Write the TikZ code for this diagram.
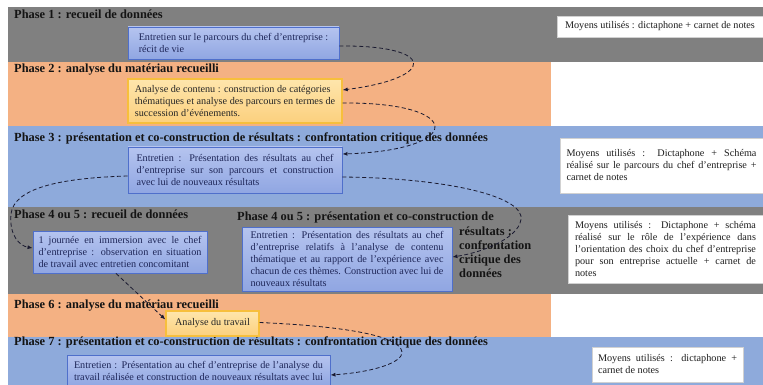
\documentclass[tikz,border=0pt]{standalone}
\usepackage{fontspec}
\setmainfont{Liberation Serif}
\usetikzlibrary{arrows.meta}
\definecolor{bandgray}{HTML}{808080}
\definecolor{bandorange}{HTML}{F4B183}
\definecolor{bandblue}{HTML}{8EAADB}
\definecolor{boxblueT}{HTML}{B5C4EF}
\definecolor{boxblueB}{HTML}{90A6E2}
\definecolor{boxblueD}{HTML}{4F6FCB}
\definecolor{boxyelT}{HTML}{FEE6AC}
\definecolor{boxyelB}{HTML}{FCD07E}
\definecolor{boxyelD}{HTML}{F7BF3C}
\definecolor{txtnavy}{HTML}{1E2658}
\definecolor{conncol}{HTML}{1A1A30}
\newcommand\JL[2]{\makebox[#1pt][s]{#2}}
\begin{document}
\begin{tikzpicture}[x=1pt,y=-1pt,
  phasetitle/.style={font=\bfseries\fontsize{12.4}{13.7}\selectfont, anchor=base west, inner sep=0pt, text=black!92, align=left},
  boxbase/.style={font=\fontsize{10.2}{12}\selectfont, align=left, inner sep=0pt},
  bluebox/.style={boxbase, draw=boxblueD, line width=0.9pt, top color=boxblueT, bottom color=boxblueB, text=txtnavy},
  yelbox/.style={boxbase, draw=boxyelD, line width=1.3pt, top color=boxyelT, bottom color=boxyelB, text=black!85},
  whitebox/.style={boxbase, draw=black!18, line width=0.5pt, fill=white, text=black!88},
  dashconn/.style={draw=conncol, line width=0.8pt, dash pattern=on 4pt off 2.6pt, -{Latex[length=5pt,width=4pt]}}
]
\useasboundingbox (0,0) rectangle (763,385);
\clip (0,0) rectangle (763,385);
% bands
\fill[bandgray]   (8,7)   rectangle (763,62);
\fill[bandorange] (8,62)  rectangle (551,126);
\fill[bandblue]   (8,126) rectangle (763,207);
\fill[bandgray]   (8,207) rectangle (763,294);
\fill[bandorange] (8,294) rectangle (551,337);
\fill[bandblue]   (8,337) rectangle (763,385);
% titles
\node[phasetitle] (t1) at (14,19) {Phase 1 : recueil de données};
\node[phasetitle] (t2) at (14,73) {Phase 2 : analyse du matériau recueilli};
\node[phasetitle] (t3) at (14,142) {Phase 3 : présentation et co-construction de résultats : confrontation critique des données};
\node[phasetitle] (t4) at (14,218) {Phase 4 ou 5 : recueil de données};
\node[phasetitle] (t5) at (237,220) {Phase 4 ou 5 : présentation et co-construction de};
\node[phasetitle] (t5b) at (459,277) {résultats :\\confrontation\\critique des\\données};
\node[phasetitle] (t6) at (14,308) {Phase 6 : analyse du matériau recueilli};
\node[phasetitle] (t7) at (14,345) {Phase 7 : présentation et co-construction de résultats : confrontation critique des données};
% boxes
\node[bluebox, minimum width=211pt, minimum height=32pt] (b1) at (233.5,43)
  {Entretien sur le parcours du chef d’entreprise :\\récit de vie};
\node[yelbox, minimum width=214pt, minimum height=44pt] (b2) at (235,101)
  {Analyse de contenu : construction de catégories\\thématiques et analyse des parcours en termes de\\succession d’événements.};
\node[whitebox, minimum width=206pt, minimum height=21pt] (m1) at (660,26.5)
  {Moyens utilisés : dictaphone + carnet de notes};
\node[bluebox, minimum width=214pt, minimum height=46pt] (b3) at (235,170)
  {\JL{197}{Entretien : Présentation des résultats au chef}\\\JL{197}{d’entreprise sur son parcours et construction}\\avec lui de nouveaux résultats};
\node[whitebox, minimum width=203pt, minimum height=55pt] (m2) at (661.5,165.5)
  {\JL{190}{Moyens utilisés : Dictaphone + Schéma}\\\JL{190}{réalisé sur le parcours du chef d’entreprise +}\\carnet de notes};
\node[bluebox, minimum width=174pt, minimum height=42pt] (b4) at (120,252)
  {\JL{163}{1 journée en immersion avec le chef}\\\JL{163}{d’entreprise : observation en situation}\\de travail avec entretien concomitant};
\node[bluebox, minimum width=210pt, minimum height=64pt] (b5) at (347,259)
  {\JL{193}{Entretien : Présentation des résultats au chef}\\\JL{193}{d’entreprise relatifs à l’analyse de contenu}\\\JL{193}{thématique et au rapport de l’expérience avec}\\\JL{193}{chacun de ces thèmes. Construction avec lui de}\\nouveaux résultats};
\node[whitebox, minimum width=195pt, minimum height=68pt] (m3) at (665.5,249)
  {\JL{181}{Moyens utilisés : Dictaphone + schéma}\\\JL{181}{réalisé sur le rôle de l’expérience dans}\\\JL{181}{l’orientation des choix du chef d’entreprise}\\\JL{181}{pour son entreprise actuelle + carnet de}\\notes};
\node[yelbox, minimum width=93pt, minimum height=25pt] (b6) at (212.5,323.5)
  {Analyse du travail};
\node[bluebox, minimum width=263pt, minimum height=32pt] (b7) at (198.5,371)
  {\JL{249}{Entretien : Présentation au chef d’entreprise de l’analyse du}\\\JL{249}{travail réalisée et construction de nouveaux résultats avec lui}};
\node[whitebox, minimum width=151pt, minimum height=35pt] (m4) at (667.5,364.5)
  {\JL{139}{Moyens utilisés : dictaphone +}\\carnet de notes};
% waypoints
\coordinate (c3m) at (11,214);
\coordinate (c4m) at (521,216);
\coordinate (c6m) at (402,352);
% connectors
\draw[dashconn] ([yshift=-3pt]b1.east) .. controls (437,45) and (437,78) .. ([yshift=11pt]b2.east);
\draw[dashconn] ([yshift=-2pt]b2.east) .. controls (465,102) and (465,150) .. ([yshift=16pt]b3.east);
\draw[dashconn] ([yshift=-6pt]b3.west) .. controls (60,178) and (14,188) .. (c3m) .. controls (9,236) and (20,246) .. ([yshift=4pt]b4.west);
\draw[dashconn] ([yshift=-7pt]b3.east) .. controls (440,178) and (516,194) .. (c4m) .. controls (523,236) and (485,252) .. ([yshift=2pt]b5.east);
\draw[dashconn] ([xshift=-4pt]b4.south) -- ([yshift=4pt]b6.west);
\draw[dashconn] ([yshift=1pt]b6.east) .. controls (340,326) and (400,335) .. (c6m) .. controls (403,362) and (375,372) .. ([yshift=-4pt]b7.east);
\end{tikzpicture}
\end{document}
